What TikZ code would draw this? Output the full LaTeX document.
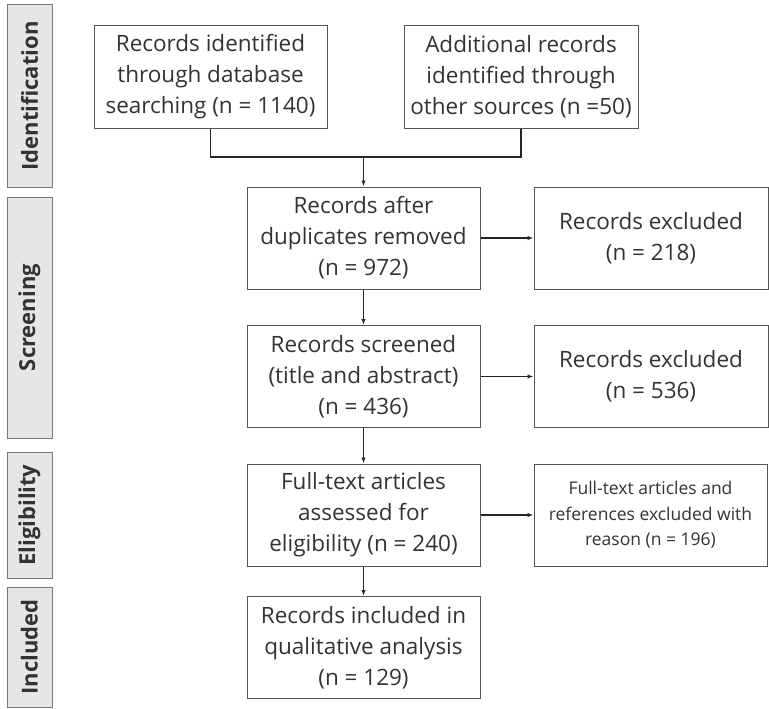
\documentclass[tikz,border=0pt]{standalone}
\usepackage{fontspec}
\setmainfont{Open Sans}
\usepackage{tikz}
\usetikzlibrary{arrows.meta}

\definecolor{ink}{HTML}{333333}
\definecolor{edge}{HTML}{555555}
\definecolor{barfill}{HTML}{E6E6E6}
\definecolor{baredge}{HTML}{777777}

\tikzset{
  stage/.style={draw=edge, line width=1pt, fill=white, text=ink, align=center,
    minimum width=233pt, minimum height=102pt, inner sep=0pt,
    font=\fontsize{22.5}{31}\selectfont},
  smallstage/.style={stage, font=\fontsize{17.5}{25.5}\selectfont},
  phase/.style={draw=baredge, line width=1pt, fill=barfill, text=ink,
    minimum height=45pt, inner sep=0pt, rotate=90,
    font=\fontsize{22}{26}\selectfont\bfseries},
  flow/.style={draw=black!85, line width=1.4pt},
  flowarrow/.style={flow, -{Latex[length=6pt, width=4.5pt]}}
}

\begin{document}
\begin{tikzpicture}[x=1pt, y=-1pt]
  \useasboundingbox (0,0) rectangle (769,709);
  % --- phase bars on the left ---
  \node[phase, minimum width=182pt] (ident) at (29.5, 96)    {Identification};
  \node[phase, minimum width=241pt] (screen) at (29.5, 317.5) {Screening};
  \node[phase, minimum width=126pt] (elig) at (29.5, 515)     {Eligibility};
  \node[phase, minimum width=120pt] (incl) at (29.5, 647)     {Included};
  % --- identification ---
  \node[stage] (db) at (210.5, 77) {Records identified\\through database\\searching (n = 1140)};
  \node[stage, minimum width=234pt] (other) at (521, 77) {Additional records\\identified through\\other sources (n =50)};
  \coordinate (join) at (363.5, 157);
  % --- screening ---
  \node[stage] (dedup) at (363.5, 238) {Records after\\duplicates removed\\(n = 972)};
  \node[stage, minimum width=234pt] (excl1) at (651, 238) {Records excluded\\(n = 218)};
  \node[stage] (screened) at (363.5, 376.5) {Records screened\\(title and abstract)\\(n = 436)};
  \node[stage, minimum width=234pt] (excl2) at (651, 376.5) {Records excluded\\(n = 536)};
  % --- eligibility ---
  \node[stage] (full) at (363.5, 515) {Full-text articles\\assessed for\\eligibility (n = 240)};
  \node[smallstage] (excl3) at (650.5, 515) {Full-text articles and\\references excluded with\\reason (n = 196)};
  % --- included ---
  \node[stage] (qual) at (363.5, 647.5) {Records included in\\qualitative analysis\\(n = 129)};
  % --- connectors ---
  \draw[flow] (db.south) |- (join);
  \draw[flow] (other.south) |- (join);
  \draw[flowarrow] (join) -- (dedup.north);
  \draw[flowarrow] (dedup) -- (excl1);
  \draw[flowarrow] (dedup) -- (screened);
  \draw[flowarrow] (screened) -- (excl2);
  \draw[flowarrow] (screened) -- (full);
  \draw[flowarrow] (full) -- (excl3);
  \draw[flowarrow] (full) -- (qual);
\end{tikzpicture}
\end{document}
